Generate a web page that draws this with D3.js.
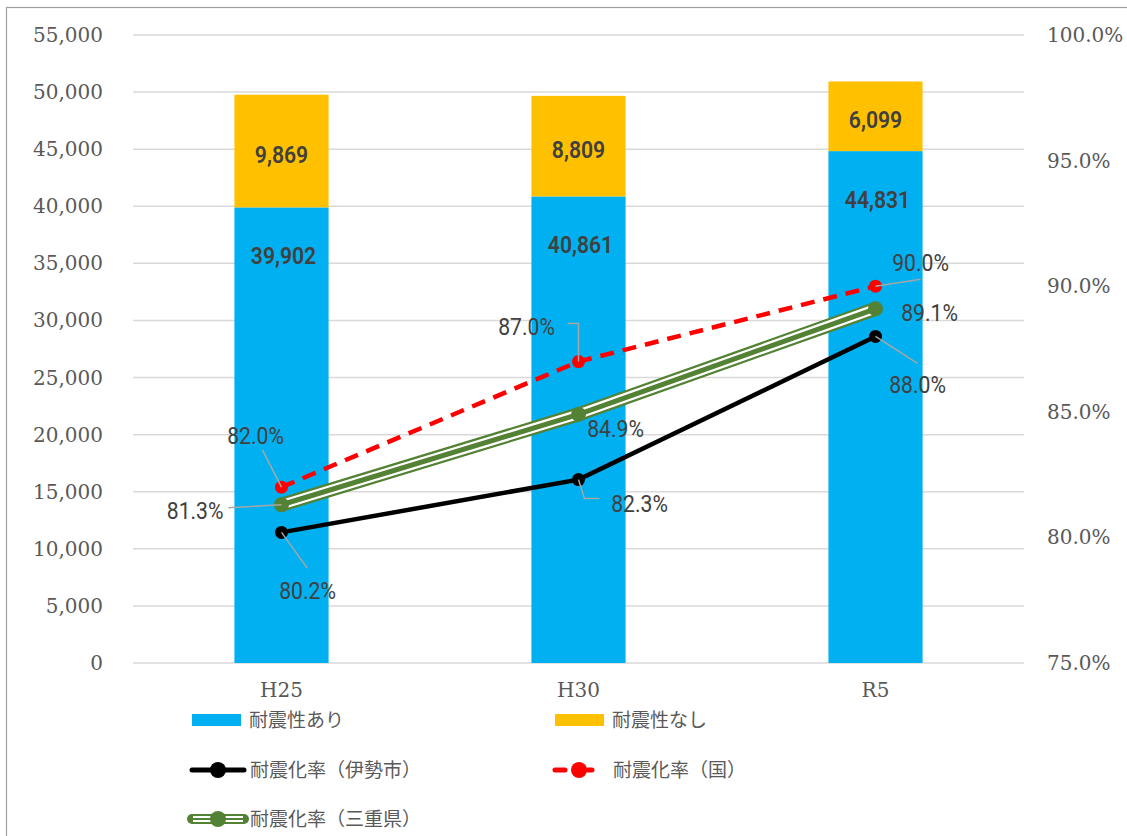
<!DOCTYPE html>
<html>
<head>
<meta charset="utf-8">
<script src="https://cdn.jsdelivr.net/npm/d3@7"></script>
<style>
  body { margin: 0; background: #fff; }
  svg { display: block; }
</style>
</head>
<body>
<div id="chart"></div>
<script>
const categories = ["H25", "H30", "R5"];
const withResist = [39902, 40861, 44831];     // 耐震性あり
const withoutResist = [9869, 8809, 6099];     // 耐震性なし
const rateIse = [0.802, 0.823, 0.880];        // 耐震化率（伊勢市）
const rateNation = [0.820, 0.870, 0.900];     // 耐震化率（国）
const rateMie = [0.813, 0.849, 0.891];        // 耐震化率（三重県）
const leftTicks = d3.range(0, 55001, 5000);
const rightTicks = [0.75, 0.80, 0.85, 0.90, 0.95, 1.00];

const W = 1127, H = 836;
const svg = d3.select("#chart").append("svg").attr("width", W).attr("height", H);

// outer frame
svg.append("rect").attr("x", 6.5).attr("y", 7.5).attr("width", W).attr("height", H)
   .attr("fill", "none").attr("stroke", "#a0a0a0").attr("stroke-width", 1.2);

const x = d3.scaleBand().domain(categories).range([133, 1024])
            .paddingInner(0.683).paddingOuter(0.3415);
const cx = c => x(c) + x.bandwidth() / 2;
const yL = d3.scaleLinear().domain([0, 55000]).range([663, 35]);
const yR = d3.scaleLinear().domain([0.75, 1.0]).range([663, 35]);

const serif = "'DejaVu Serif', 'Liberation Serif', serif";
const sans = "Roboto, 'Liberation Sans', sans-serif";
const jp = "'Noto Sans CJK JP', sans-serif";
const txt = "#595959";

// gridlines
svg.append("g").selectAll("line").data(leftTicks).join("line")
   .attr("x1", 133).attr("x2", 1024)
   .attr("y1", d => yL(d)).attr("y2", d => yL(d))
   .attr("stroke", "#d9d9d9").attr("stroke-width", 1.5);

// left axis
const fmt = d3.format(",");
svg.append("g").selectAll("text").data(leftTicks).join("text")
   .attr("x", 103).attr("y", d => yL(d)).attr("dy", "0.35em")
   .attr("text-anchor", "end").attr("font-family", serif).attr("font-size", 20)
   .attr("fill", txt).text(d => fmt(d));

// right axis
svg.append("g").selectAll("text").data(rightTicks).join("text")
   .attr("x", 1047).attr("y", d => yR(d)).attr("dy", "0.35em")
   .attr("text-anchor", "start").attr("font-family", serif).attr("font-size", 20)
   .attr("fill", txt).text(d => d3.format(".1%")(d));

// category labels
svg.append("g").selectAll("text").data(categories).join("text")
   .attr("x", d => cx(d)).attr("y", 690).attr("dy", "0.35em")
   .attr("text-anchor", "middle").attr("font-family", serif).attr("font-size", 20)
   .attr("fill", txt).text(d => d);

// stacked bars
const blue = "#00b0f0", orange = "#ffc000";
const bars = svg.append("g");
const barLabel = (px, py, s) => bars.append("text")
      .attr("transform", `translate(${px},${py}) scale(0.92,1.08)`).attr("dy", "0.35em")
      .attr("text-anchor", "middle").attr("font-family", sans).attr("font-weight", 600)
      .attr("font-size", 23).attr("fill", "#404040").text(s);
categories.forEach((c, i) => {
  const a = withResist[i], b = withoutResist[i];
  bars.append("rect").attr("x", x(c)).attr("width", x.bandwidth())
      .attr("y", yL(a)).attr("height", yL(0) - yL(a)).attr("fill", blue);
  bars.append("rect").attr("x", x(c)).attr("width", x.bandwidth())
      .attr("y", yL(a + b)).attr("height", yL(a) - yL(a + b)).attr("fill", orange);
  barLabel(cx(c) + 2, yL(a) + 48, fmt(a));
  barLabel(cx(c), (yL(a) + yL(a + b)) / 2 + 3, fmt(b));
});

// lines
const line = vals => d3.line().x((d, i) => cx(categories[i])).y(d => yR(d))(vals);
const lines = svg.append("g");

// 三重県: compound line (thin-thick-thin)
lines.append("path").attr("d", line(rateMie)).attr("fill", "none").attr("stroke", "#548235").attr("stroke-width", 14);
lines.append("path").attr("d", line(rateMie)).attr("fill", "none").attr("stroke", "#fff").attr("stroke-width", 9.5);
lines.append("path").attr("d", line(rateMie)).attr("fill", "none").attr("stroke", "#548235").attr("stroke-width", 5);
lines.selectAll(".mMie").data(rateMie).join("circle").attr("class", "mMie")
     .attr("cx", (d, i) => cx(categories[i])).attr("cy", d => yR(d)).attr("r", 7.5).attr("fill", "#548235");

// 国: red dashed
lines.append("path").attr("d", line(rateNation)).attr("fill", "none").attr("stroke", "#ff0000")
     .attr("stroke-width", 4.5).attr("stroke-dasharray", "14,9");
lines.selectAll(".mNat").data(rateNation).join("circle").attr("class", "mNat")
     .attr("cx", (d, i) => cx(categories[i])).attr("cy", d => yR(d)).attr("r", 6.5).attr("fill", "#ff0000");

// 伊勢市: black
lines.append("path").attr("d", line(rateIse)).attr("fill", "none").attr("stroke", "#000").attr("stroke-width", 4.5);
lines.selectAll(".mIse").data(rateIse).join("circle").attr("class", "mIse")
     .attr("cx", (d, i) => cx(categories[i])).attr("cy", d => yR(d)).attr("r", 6.5).attr("fill", "#000");

// data labels with leader lines (offsets relative to the point)
const pct = d3.format(".1%");
const labelLayout = [
  { vals: rateNation, i: 0, dx: -26, dy: -52, leader: [[-19, -37], [0, 0]], anchor: "middle" },
  { vals: rateMie,    i: 0, dx: -58, dy: 6,   leader: [[-53, 3], [0, 0]], anchor: "end" },
  { vals: rateIse,    i: 0, dx: 26,  dy: 58,  leader: [[26, 36], [0, 0]], anchor: "middle" },
  { vals: rateNation, i: 1, dx: -52, dy: -35, leader: [[-11, -38], [0, -38], [0, 0]], anchor: "middle" },
  { vals: rateMie,    i: 1, dx: 37,  dy: 14,  leader: null, anchor: "middle" },
  { vals: rateIse,    i: 1, dx: 61,  dy: 24,  leader: [[0, 0], [6, 19], [21, 19]], anchor: "middle" },
  { vals: rateNation, i: 2, dx: 45,  dy: -24, leader: [[45, -7], [0, 0]], anchor: "middle" },
  { vals: rateMie,    i: 2, dx: 54,  dy: 3,   leader: null, anchor: "middle" },
  { vals: rateIse,    i: 2, dx: 42,  dy: 48,  leader: [[42, 27], [0, 0]], anchor: "middle" }
];
const lbl = svg.append("g");
labelLayout.forEach(l => {
  const px = cx(categories[l.i]), py = yR(l.vals[l.i]);
  if (l.leader) {
    lbl.append("path")
       .attr("d", d3.line()(l.leader.map(p => [px + p[0], py + p[1]])))
       .attr("fill", "none").attr("stroke", "#a6a6a6").attr("stroke-width", 1.5);
  }
  lbl.append("text").attr("transform", `translate(${px + l.dx},${py + l.dy}) scale(0.92,1.08)`)
     .attr("dy", "0.35em")
     .attr("text-anchor", l.anchor).attr("font-family", sans).attr("font-size", 23)
     .attr("fill", "#404040").text(pct(l.vals[l.i]));
});

// legend
const leg = svg.append("g").attr("font-family", jp).attr("font-size", 19).attr("fill", txt);
const legendItems = [
  { name: "耐震性あり", type: "bar", color: blue, x: 192, y: 720 },
  { name: "耐震性なし", type: "bar", color: orange, x: 555, y: 720 },
  { name: "耐震化率（伊勢市）", type: "ise", x: 192, y: 770 },
  { name: "耐震化率（国）", type: "nat", x: 555, y: 770 },
  { name: "耐震化率（三重県）", type: "mie", x: 192, y: 819 }
];
legendItems.forEach(d => {
  if (d.type === "bar") {
    leg.append("rect").attr("x", d.x).attr("y", d.y - 6).attr("width", 49).attr("height", 12).attr("fill", d.color);
    leg.append("text").attr("x", d.x + 57).attr("y", d.y).attr("dy", "0.35em").text(d.name);
    return;
  }
  const x1 = d.x, x2 = d.x + 52, mx = d.x + 26;
  if (d.type === "mie") {
    leg.append("line").attr("x1", x1).attr("x2", x2).attr("y1", d.y).attr("y2", d.y).attr("stroke", "#548235").attr("stroke-width", 10).attr("stroke-linecap", "round");
    leg.append("line").attr("x1", x1 + 1).attr("x2", x2 - 1).attr("y1", d.y).attr("y2", d.y).attr("stroke", "#fff").attr("stroke-width", 6);
    leg.append("line").attr("x1", x1 + 1).attr("x2", x2 - 1).attr("y1", d.y).attr("y2", d.y).attr("stroke", "#548235").attr("stroke-width", 2);
    leg.append("circle").attr("cx", mx).attr("cy", d.y).attr("r", 8).attr("fill", "#548235");
  } else if (d.type === "ise") {
    leg.append("line").attr("x1", x1).attr("x2", x2).attr("y1", d.y).attr("y2", d.y).attr("stroke", "#000").attr("stroke-width", 5).attr("stroke-linecap", "round");
    leg.append("circle").attr("cx", mx).attr("cy", d.y).attr("r", 8).attr("fill", "#000");
  } else {
    leg.append("line").attr("x1", x1).attr("x2", x2).attr("y1", d.y).attr("y2", d.y).attr("stroke", "#ff0000").attr("stroke-width", 5)
       .attr("stroke-linecap", "round").attr("stroke-dasharray", "10,11,0,12,4,100");
    leg.append("circle").attr("cx", mx - 2).attr("cy", d.y).attr("r", 8).attr("fill", "#ff0000");
  }
  leg.append("text").attr("x", d.x + 58).attr("y", d.y).attr("dy", "0.35em").text(d.name);
});
</script>
</body>
</html>
